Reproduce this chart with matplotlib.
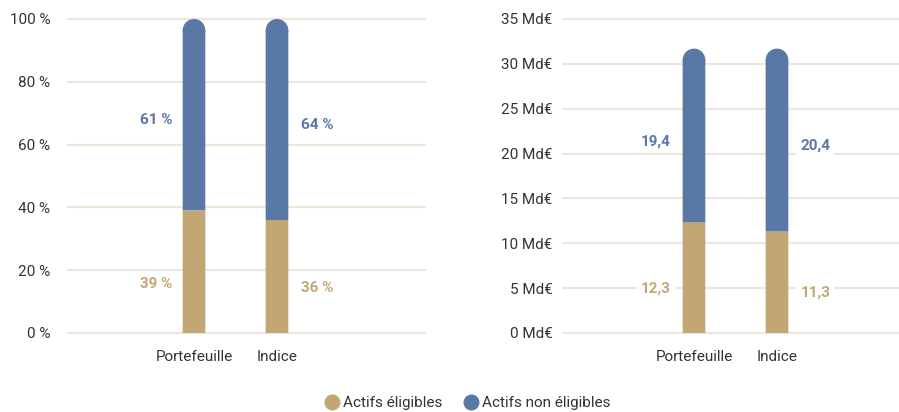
import matplotlib
matplotlib.use('Agg')
import matplotlib.pyplot as plt
from matplotlib.patches import Ellipse
from matplotlib.lines import Line2D

categories = ['Portefeuille', 'Indice']
series_names = ['Actifs éligibles', 'Actifs non éligibles']

pct_eligible = [39, 36]
pct_non_eligible = [61, 64]
pct_ticks = [0, 20, 40, 60, 80, 100]

md_eligible = [12.3, 11.3]
md_non_eligible = [19.4, 20.4]
md_ticks = [0, 5, 10, 15, 20, 25, 30, 35]

TAN = '#C2A775'
BLUE = '#5A78A5'
GRID = '#EEE6D8'
TXT = '#333333'
FS = 11

plt.rcParams['font.family'] = ['Roboto', 'DejaVu Sans']

W, H = 899, 412
fig = plt.figure(figsize=(W / 100, H / 100), dpi=100)


def make_axes(left_px, right_px, ylo, yhi):
    # axes placed so that ylo/yhi gridlines sit at y=333 / y=19 px
    top_px, bot_px = 19, 333
    ppu = (bot_px - top_px) / (yhi - ylo)
    pad = 3 / ppu
    b = H - (bot_px + 3)
    t = H - (top_px - 3)
    ax = fig.add_axes([left_px / W, b / H, (right_px - left_px) / W, (t - b) / H])
    ax.set_ylim(ylo - pad, yhi + pad)
    return ax


def draw(ax, low, high, fmt, ticks, tick_fmt, xlim, label_dx, tickpad):
    x = list(range(len(categories)))
    ax.set_xlim(*xlim)
    width = 0.273
    # radius of the rounded top in data units
    bb = ax.get_window_extent()
    ppx = bb.width / (xlim[1] - xlim[0])
    y0, y1 = ax.get_ylim()
    ppy = bb.height / (y1 - y0)
    r = width * ppx / 2 / ppy

    tops = [a + b for a, b in zip(low, high)]
    ax.bar(x, [t - r - a for t, a in zip(tops, low)], bottom=low, width=width,
           color=BLUE, linewidth=0, snap=False, zorder=2)
    for xi, t in zip(x, tops):
        ax.add_patch(Ellipse((xi, t - r), width, 2 * r, facecolor=BLUE,
                             edgecolor='none', zorder=1.9))
    ax.bar(x, low, width=width, color=TAN, linewidth=0, snap=False, zorder=3)

    for i, xi in enumerate(x):
        dx = label_dx[i]
        ax.text(xi + dx, low[i] * 0.4, fmt(low[i]), color=TAN, ha='center',
                va='center', fontsize=FS, fontweight='bold', zorder=4,
                bbox=dict(facecolor='white', edgecolor='none', pad=3))
        ax.annotate(fmt(high[i]), (xi + dx, low[i] + high[i] / 2),
                    xytext=(0, -4), textcoords='offset points', color=BLUE,
                    ha='center', va='center', fontsize=FS, fontweight='bold',
                    zorder=4,
                    bbox=dict(facecolor='white', edgecolor='none', pad=3))

    ax.set_yticks(ticks)
    ax.set_yticklabels([tick_fmt(v) for v in ticks])
    ax.set_xticks(x)
    ax.set_xticklabels(categories)
    ax.tick_params(axis='y', length=0, pad=tickpad, labelsize=FS, labelcolor=TXT)
    ax.tick_params(axis='x', length=0, pad=10, labelsize=FS, labelcolor=TXT)
    ax.grid(axis='y', color=GRID, linewidth=1.5, zorder=0)
    ax.set_axisbelow(True)
    for s in ax.spines.values():
        s.set_visible(False)


ax1 = make_axes(67, 426, 0, 100)
draw(ax1, pct_eligible, pct_non_eligible, lambda v: f'{v} %', pct_ticks,
     lambda v: f'{v} %', (-1.53, 2.795), [-0.46, 0.48], 12)

ax2 = make_axes(562, 899, 0, 35)
draw(ax2, md_eligible, md_non_eligible, lambda v: f'{v:.1f}'.replace('.', ','),
     md_ticks, lambda v: f'{v} Md€', (-1.59, 2.47), [-0.46, 0.46], 7)

handles = [Line2D([], [], marker='o', linestyle='none', markersize=10.5,
                  markerfacecolor=c, markeredgecolor=c) for c in (TAN, BLUE)]
fig.legend(handles, series_names, loc='center', bbox_to_anchor=(0.519, 0.022),
           ncol=2, frameon=False, fontsize=FS, handletextpad=0.1,
           handlelength=1.2, columnspacing=1.3, labelcolor=TXT)

fig.savefig('out.png', dpi=100)
